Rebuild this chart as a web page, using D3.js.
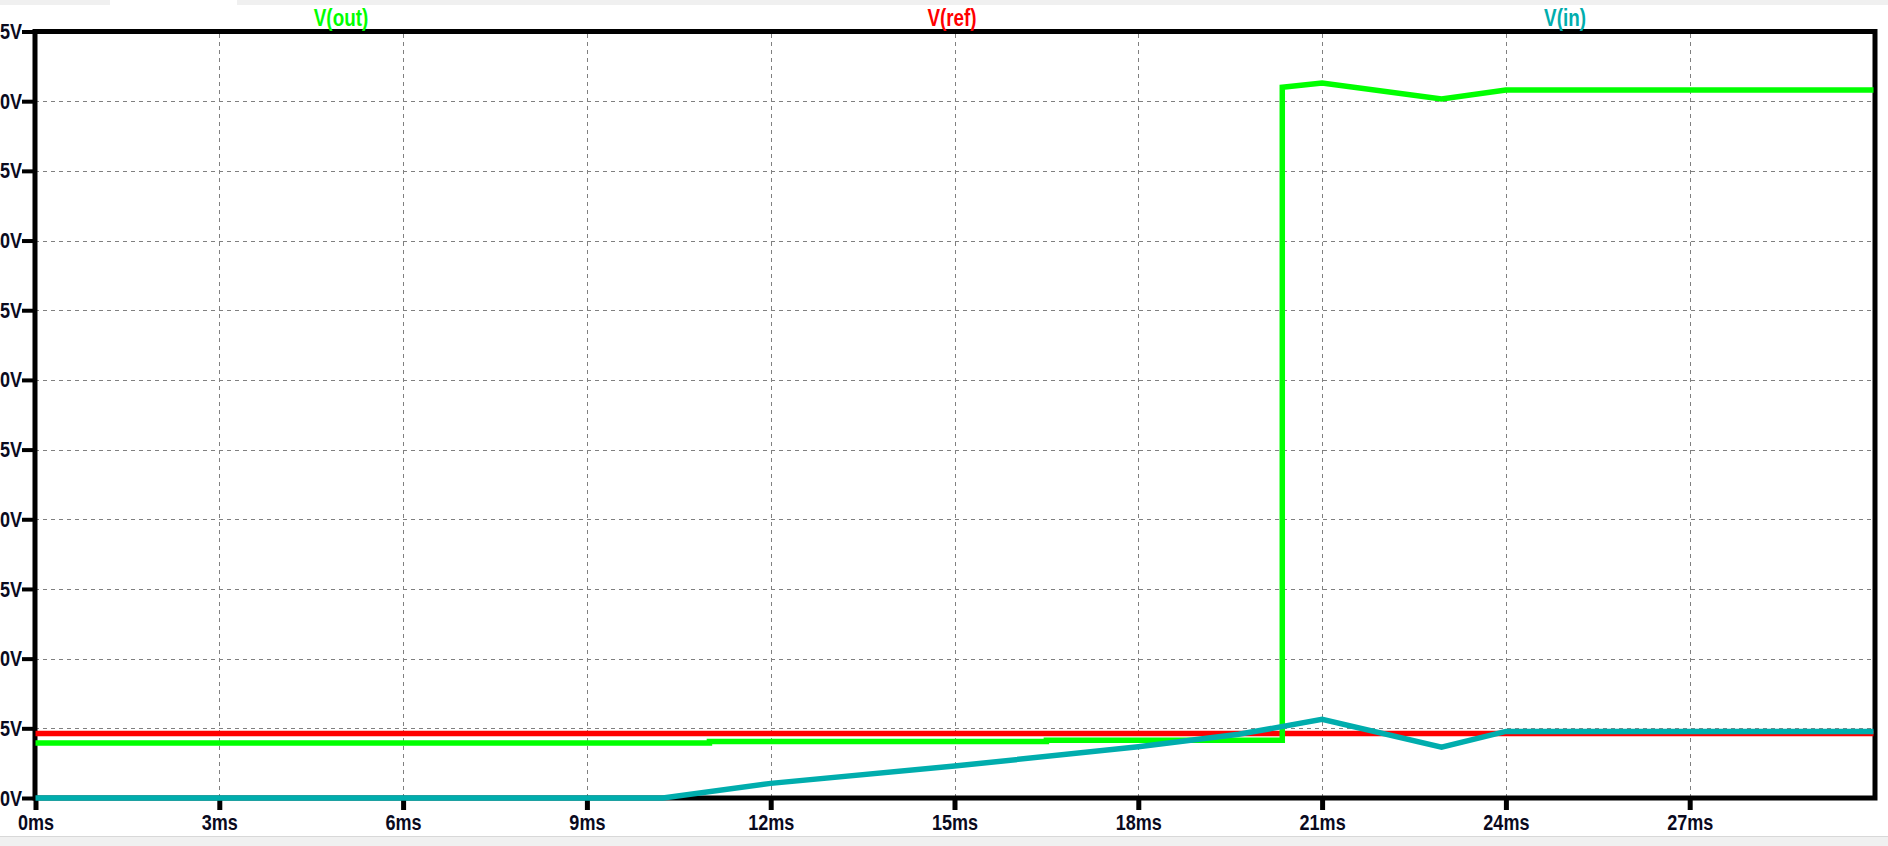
<!DOCTYPE html>
<html>
<head>
<meta charset="utf-8">
<script src="https://cdn.jsdelivr.net/npm/d3@7"></script>
<style>
  html, body { margin: 0; padding: 0; background: #ffffff; overflow: hidden; }
  svg { display: block; }
  .lbl { font-family: "Liberation Sans", Arial, sans-serif; font-weight: bold; }
</style>
</head>
<body>
<svg id="chart" width="1888" height="846"></svg>
<script>
// ---- data ----
const seriesNames = ["V(out)", "V(ref)", "V(in)"];
const seriesColors = ["#00ff00", "#ff0000", "#00adad"];

const timeOut = [0, 11, 11, 16.5, 16.5, 20.35, 20.35, 21, 22.95, 24, 30];
const vOut    = [3.95, 3.95, 4.05, 4.05, 4.15, 4.15, 51.0, 51.3, 50.15, 50.8, 50.8];

const timeRef = [0, 30];
const vRef    = [4.62, 4.62];

const timeIn = [0, 10.24, 12, 15, 18, 19.64, 21, 22.95, 24, 30];
const vIn    = [0, 0, 1.05, 2.29, 3.68, 4.57, 5.64, 3.65, 4.78, 4.78];

const xTicks = [0, 3, 6, 9, 12, 15, 18, 21, 24, 27];
const xTickLabels = ["0ms", "3ms", "6ms", "9ms", "12ms", "15ms", "18ms", "21ms", "24ms", "27ms"];
const yTicks = [0, 5, 10, 15, 20, 25, 30, 35, 40, 45, 50, 55];
const yTickLabels = ["0V", "5V", "10V", "15V", "20V", "25V", "30V", "35V", "40V", "45V", "50V", "55V"];

// ---- layout ----
const L = 35, R = 1875, T = 31.5, B = 798;
const SX = 0.82; // horizontal condensing of text
const svg = d3.select("#chart");

const x = d3.scaleLinear().domain([0, 30]).range([35.5, 1873.5]);
const y = d3.scaleLinear().domain([0, 55]).range([B, T]);

// window chrome bands
svg.append("rect").attr("x", 0).attr("y", 0).attr("width", 1888).attr("height", 5).attr("fill", "#f0f0f0");
svg.append("rect").attr("x", 110).attr("y", 0).attr("width", 127).attr("height", 5).attr("fill", "#ffffff");
svg.append("rect").attr("x", 0).attr("y", 836).attr("width", 1888).attr("height", 10).attr("fill", "#f0f0f0");
svg.append("line").attr("x1", 0).attr("x2", 1888).attr("y1", 836.5).attr("y2", 836.5).attr("stroke", "#d8d8d8");

// grid
const gridX = svg.append("g").attr("transform", `translate(0,${B})`)
  .call(d3.axisBottom(x).tickValues(xTicks.filter(d => d > 0)).tickSize(-(B - T)).tickFormat(""));
gridX.select(".domain").remove();
gridX.selectAll("line").attr("stroke", "#808080").attr("stroke-width", 1).attr("stroke-dasharray", "4,4")
  .attr("shape-rendering", "crispEdges");

const gridY = svg.append("g").attr("transform", `translate(${L},0)`)
  .call(d3.axisLeft(y).tickValues(yTicks.filter(d => d > 0 && d < 55)).tickSize(-(R - L)).tickFormat(""));
gridY.select(".domain").remove();
gridY.selectAll("line").attr("stroke", "#808080").attr("stroke-width", 1).attr("stroke-dasharray", "4,4")
  .attr("shape-rendering", "crispEdges");

// frame
svg.append("rect").attr("x", L).attr("y", T).attr("width", R - L).attr("height", B - T)
  .attr("fill", "none").attr("stroke", "#000").attr("stroke-width", 5);

// axes
const ax = svg.append("g").attr("transform", `translate(0,${B})`)
  .call(d3.axisBottom(x).tickValues(xTicks).tickSize(12).tickPadding(4)
    .tickFormat((d, i) => xTickLabels[i]));
ax.select(".domain").remove();
ax.selectAll("line").attr("stroke", "#000").attr("stroke-width", 5);
ax.selectAll("text").attr("class", "lbl").attr("font-size", 22).attr("fill", "#0a0a1e")
  .attr("transform", `scale(${SX},1)`);

const ay = svg.append("g").attr("transform", `translate(${L},0)`)
  .call(d3.axisLeft(y).tickValues(yTicks).tickSize(13).tickPadding(0)
    .tickFormat((d, i) => yTickLabels[i]));
ay.select(".domain").remove();
ay.selectAll("line").attr("stroke", "#000").attr("stroke-width", 4);
ay.selectAll("text").attr("class", "lbl").attr("font-size", 22).attr("fill", "#0a0a1e")
  .attr("x", -13 / SX).attr("transform", `scale(${SX},1)`);

// series lines
const line = d3.line().x(d => x(d[0])).y(d => y(d[1]));
const series = [
  { pts: d3.zip(timeRef, vRef), color: seriesColors[1] },
  { pts: d3.zip(timeOut, vOut), color: seriesColors[0] },
  { pts: d3.zip(timeIn, vIn), color: seriesColors[2] }
];
svg.append("g").selectAll("path").data(series).join("path")
  .attr("d", d => line(d.pts))
  .attr("fill", "none")
  .attr("stroke", d => d.color)
  .attr("stroke-width", 5.5)
  .attr("stroke-linejoin", "miter");

// legend labels
const legendX = [341, 952, 1565];
svg.append("g").selectAll("text").data(seriesNames).join("text")
  .attr("class", "lbl")
  .attr("transform", (d, i) => `translate(${legendX[i]},26) scale(${SX},1)`)
  .attr("text-anchor", "middle")
  .attr("font-size", 23)
  .attr("fill", (d, i) => seriesColors[i])
  .text(d => d);
</script>
</body>
</html>
